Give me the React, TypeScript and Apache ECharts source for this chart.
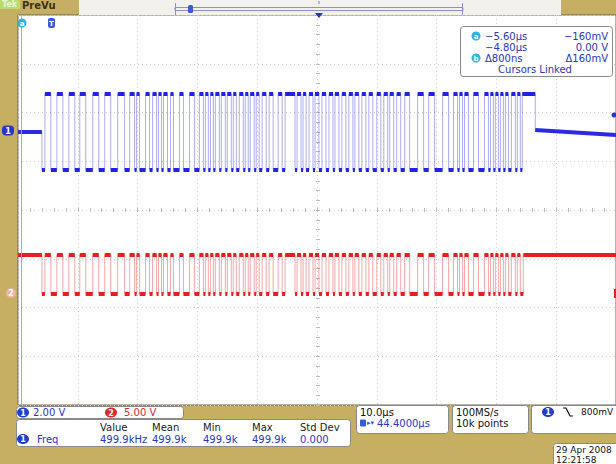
import React, { useEffect, useRef } from "react";
import * as echarts from "echarts";

// ---- Data (time in µs across the 10 divisions, level in divisions from centre) ----
const timeRangeUs = [0, 100];
const levelRangeDiv = [-4, 4];

// Edge times (µs) of the serial burst: rise, fall, rise, fall ...
const sharedEdgesUs = [
  4.5, 5.5, 6.5, 7.5, 8.5, 9.5, 10.33, 11.33, 12.5, 13.5, 14.5, 15.5, 16.67, 17.83,
  18.67, 19.5, 19.83, 20.33, 21.33, 22.0, 22.5, 23.17, 23.5, 24.0, 24.33, 25.0, 25.5, 26.0,
  27.0, 27.67, 28.67, 29.5, 30.33, 31.0, 31.33, 31.83, 32.17, 32.67, 33.0, 33.67, 34.0,
  34.67, 35.0, 35.67, 36.0, 36.5, 37.0, 37.67, 38.0, 38.5, 38.83, 39.5, 39.83, 40.33,
  40.83, 41.5, 42.0, 42.67, 43.5, 44.17, 44.67, 46.33, 46.67, 47.33, 47.67, 48.17, 48.67, 49.33,
  49.67, 50.33, 50.83, 51.5, 52.0, 52.67, 53.0, 53.67, 54.17, 54.83, 55.33, 56.0, 56.33,
  57.0, 57.5, 58.17, 58.67, 59.33, 60.0, 60.67, 61.17, 61.83, 62.17, 62.83, 63.33, 64.0,
  64.67, 65.5, 66.83, 67.83, 68.67, 69.67, 71.0, 72.0, 72.83, 73.5, 73.83, 74.33, 74.67,
  75.33, 76.17, 77.0, 78.0, 78.67, 79.0, 79.5, 79.83, 80.33, 80.67, 81.17, 81.5, 82.0,
  82.5, 83.17, 83.5, 84.0,
];

// Channel 1 (blue)
const ch1BurstStartUs = 4.0;
const ch1TailEdgesUs = [84.33];
const ch1ReturnUs = 86.5;
const ch1Levels = { high: 2.38, low: 0.82 };
const ch1IdleStart = [1.6, 1.6]; // level at t=0 and at burst start
const ch1IdleEnd = [1.64, 1.54]; // level after return and at t=100

// Channel 2 (red) – idles high
const ch2BurstStartUs = 4.0;
const ch2TailEdgesUs = [84.5];
const ch2Levels = { high: -0.92, low: -1.72 };

// Readouts
const cursorRows = [
  ["−5.60µs", "−160mV"],
  ["−4.80µs", "0.00 V"],
  ["Δ800ns", "Δ160mV"],
];
const measHeaders = ["Value", "Mean", "Min", "Max", "Std Dev"];
const measValues = ["499.9kHz", "499.9k", "499.9k", "499.9k", "0.000"];

type P = [number, number];

function buildTrace(
  startUs: number,
  idleA: number,
  edges: number[],
  low: number,
  high: number,
  returnUs: number | null,
  idleEnd: [number, number] | null
) {
  const path: P[] = [[timeRangeUs[0], idleA], [startUs, idleA], [startUs, low]];
  const plateaus: P[][] = [];
  let level = low;
  let last = startUs;
  for (const t of edges) {
    plateaus.push([[last, level], [t, level]]);
    path.push([t, level]);
    level = level === low ? high : low;
    path.push([t, level]);
    last = t;
  }
  if (returnUs !== null && idleEnd) {
    plateaus.push([[last, level], [returnUs, level]]);
    path.push([returnUs, level]);
    path.push([returnUs, idleEnd[0]]);
    path.push([timeRangeUs[1], idleEnd[1]]);
  } else {
    path.push([timeRangeUs[1], level]);
  }
  return { path, plateaus, last, level };
}

const FONT = "DejaVu Sans";

function txt(x: number, y: number, text: string, fill = "#000", extra: any = {}) {
  return {
    type: "text",
    x,
    y,
    silent: true,
    style: {
      text,
      fill,
      font: `${extra.weight || "normal"} ${extra.size || 10}px "${FONT}"`,
      textAlign: extra.align || "left",
      textVerticalAlign: "middle",
    },
    z: 20,
  };
}
function box(x: number, y: number, w: number, h: number, fill = "#fff", stroke = "#8a8a8a") {
  return {
    type: "rect",
    silent: true,
    shape: { x, y, width: w, height: h, r: 3 },
    style: { fill, stroke, lineWidth: 1 },
    z: 15,
  };
}
function badge(cx: number, cy: number, label: string, fill: string, color = "#fff") {
  return [
    {
      type: "ellipse",
      silent: true,
      shape: { cx, cy, rx: 6, ry: 5 },
      style: { fill },
      z: 18,
    },
    txt(cx, cy + 0.5, label, color, { align: "center", size: 8, weight: "bold" }),
  ];
}
function letterBadge(cx: number, cy: number, label: string) {
  return [
    { type: "circle", silent: true, shape: { cx, cy, r: 4.5 }, style: { fill: "#2fb3e6" }, z: 18 },
    txt(cx, cy + 0.5, label, "#fff", { align: "center", size: 7, weight: "bold" }),
  ];
}

export default function App() {
  const ref = useRef<HTMLDivElement>(null);
  useEffect(() => {
    document.body.style.margin = "0";
    const chart = echarts.init(ref.current!, null, { renderer: "svg" });

    const blue = buildTrace(
      ch1BurstStartUs,
      ch1IdleStart[0],
      [...sharedEdgesUs, ...ch1TailEdgesUs],
      ch1Levels.low,
      ch1Levels.high,
      ch1ReturnUs,
      [ch1IdleEnd[0], ch1IdleEnd[1]]
    );
    const red = buildTrace(
      ch2BurstStartUs,
      ch2Levels.high,
      [...sharedEdgesUs, ...ch2TailEdgesUs],
      ch2Levels.low,
      ch2Levels.high,
      null,
      null
    );
    const blueIdle: P[][] = [
      [[timeRangeUs[0], ch1IdleStart[0]], [ch1BurstStartUs, ch1IdleStart[1]]],
      [[ch1ReturnUs, ch1IdleEnd[0]], [timeRangeUs[1], ch1IdleEnd[1]]],
    ];
    const redIdle: P[][] = [
      [[timeRangeUs[0], ch2Levels.high], [ch2BurstStartUs, ch2Levels.high]],
      [[red.last, ch2Levels.high], [timeRangeUs[1], ch2Levels.high]],
    ];

    const gridSplit = { show: true, lineStyle: { color: "#cdcdcd", type: [1, 3], width: 1 } };
    const hidden = { show: false };
    const crossAxisX = (inside: boolean) => ({
      type: "value",
      min: timeRangeUs[0],
      max: timeRangeUs[1],
      interval: 10,
      position: "bottom",
      offset: -195,
      axisLine: hidden,
      axisLabel: hidden,
      splitLine: hidden,
      axisTick: { show: true, inside, length: 2, lineStyle: { color: "#bdbdbd" } },
      minorTick: { show: true, splitNumber: 5, length: 2, lineStyle: { color: "#bdbdbd" } },
    });
    const crossAxisY = (inside: boolean) => ({
      type: "value",
      min: levelRangeDiv[0],
      max: levelRangeDiv[1],
      interval: 1,
      position: "left",
      offset: -300,
      axisLine: hidden,
      axisLabel: hidden,
      splitLine: hidden,
      axisTick: { show: true, inside, length: 2, lineStyle: { color: "#bdbdbd" } },
      minorTick: { show: true, splitNumber: 5, length: 2, lineStyle: { color: "#bdbdbd" } },
    });

    const graphics: any[] = [
      // top record bar
      { type: "rect", silent: true, shape: { x: 79, y: 0, width: 482, height: 15 }, style: { fill: "#f2f1ec" }, z: 10 },
      { type: "rect", silent: true, shape: { x: 175, y: 7.5, width: 288, height: 3 }, style: { fill: "none", stroke: "#8e8ed8", lineWidth: 1 }, z: 11 },
      { type: "line", silent: true, shape: { x1: 175.5, y1: 3, x2: 175.5, y2: 15 }, style: { stroke: "#8e8ed8", lineWidth: 1 }, z: 11 },
      { type: "line", silent: true, shape: { x1: 462.5, y1: 3, x2: 462.5, y2: 15 }, style: { stroke: "#8e8ed8", lineWidth: 1 }, z: 11 },
      { type: "rect", silent: true, shape: { x: 188, y: 5, width: 5, height: 8, r: 1.5 }, style: { fill: "#3a5ad8" }, z: 12 },
      { type: "polygon", silent: true, shape: { points: [[315, 13], [323, 13], [319, 18]] }, style: { fill: "#2438c8" }, z: 30 },
      { type: "line", silent: true, shape: { x1: 319, y1: 1, x2: 319, y2: 4 }, style: { stroke: "#6c7ad0", lineWidth: 1 }, z: 12 },
      { type: "rect", silent: true, shape: { x: 0, y: 0, width: 20, height: 9 }, style: { fill: "#b9dc68" }, z: 11 },
      txt(2, 4.5, "Tek", "#eef7d0", { weight: "bold", size: 8 }),
      txt(22, 5, "PreVu", "#3a3214", { weight: "bold", size: 10 }),
      // cursor line + markers in the plot
      { type: "line", silent: true, shape: { x1: 21.5, y1: 16, x2: 21.5, y2: 405 }, style: { stroke: "#a3a3f2", lineWidth: 1 }, z: 9 },
      ...letterBadge(22, 23, "a"),
      { type: "rect", silent: true, shape: { x: 48, y: 18, width: 7, height: 10, r: 2 }, style: { fill: "#3a5ad8" }, z: 18 },
      txt(51.5, 23.5, "T", "#fff", { align: "center", size: 7, weight: "bold" }),
      // channel ground markers
      { type: "rect", silent: true, shape: { x: 2, y: 125.5, width: 12, height: 10, r: 4 }, style: { fill: "#2438c8" }, z: 18 },
      txt(8, 131, "1", "#fff", { align: "center", size: 8, weight: "bold" }),
      { type: "circle", silent: true, shape: { cx: 11, cy: 293, r: 5 }, style: { fill: "#f4b2a2" }, z: 18 },
      txt(11, 293.5, "2", "#fff", { align: "center", size: 8, weight: "bold" }),
      { type: "circle", silent: true, shape: { cx: 614, cy: 115, r: 2.5 }, style: { fill: "#2438c8" }, z: 18 },
      { type: "line", silent: true, shape: { x1: 615, y1: 289, x2: 615, y2: 298 }, style: { stroke: "#e82020", lineWidth: 2 }, z: 18 },
      // cursor readout box
      box(460.5, 26.5, 152, 50),
      ...letterBadge(476, 36, "a"),
      txt(485, 36, cursorRows[0][0], "#2b36b8"),
      txt(608, 36, cursorRows[0][1], "#2b36b8", { align: "right" }),
      txt(485, 47, cursorRows[1][0], "#2b36b8"),
      txt(608, 47, cursorRows[1][1], "#2b36b8", { align: "right" }),
      ...letterBadge(476, 58, "b"),
      txt(485, 58, cursorRows[2][0], "#2b36b8"),
      txt(608, 58, cursorRows[2][1], "#2b36b8", { align: "right" }),
      txt(535, 69, "Cursors Linked", "#2b36b8", { align: "center" }),
      // bottom: channel scale box
      box(16.5, 406.5, 167, 12),
      ...badge(23, 412.5, "1", "#1e3fd0"),
      txt(33, 412.5, "2.00 V", "#2b36c8"),
      ...badge(111, 412.5, "2", "#e02828"),
      txt(124, 412.5, "5.00 V", "#e02828"),
      // measurement box
      box(16.5, 419.5, 334, 27),
      ...badge(23, 439, "1", "#1e3fd0"),
      txt(37, 439, "Freq", "#2b36c8"),
      // timebase box
      box(356.5, 405.5, 92, 28),
      txt(360, 412, "10.0µs", "#111"),
      { type: "rect", silent: true, shape: { x: 360, y: 419.5, width: 6, height: 7, r: 1 }, style: { fill: "#3a5ad8" }, z: 18 },
      txt(367, 423, "▸▾", "#3a5ad8", { size: 7 }),
      txt(377, 423, "44.4000µs", "#2b36c8"),
      // sample box
      box(452.5, 405.5, 76, 28),
      txt(456, 412, "100MS/s", "#111"),
      txt(456, 423, "10k points", "#111"),
      // trigger box
      box(531.5, 405.5, 92, 28),
      ...badge(548, 412, "1", "#1e3fd0"),
      { type: "polyline", silent: true, shape: { points: [[563, 408], [566, 408], [570, 416], [573, 416]] }, style: { stroke: "#111", lineWidth: 1.2, fill: "none" }, z: 20 },
      txt(581, 412, "800mV", "#111", { size: 9 }),
      // date box
      box(553.5, 443.5, 70, 24),
      txt(556, 449.5, "29 Apr 2008", "#111", { size: 9 }),
      txt(556, 459.5, "12:21:58", "#111", { size: 9 }),
    ];
    const headerX = [100, 152, 203, 252, 300];
    measHeaders.forEach((h, i) => graphics.push(txt(headerX[i], 427.5, h, "#222")));
    measValues.forEach((v, i) => graphics.push(txt(headerX[i], 439, v, "#2b36c8")));

    chart.setOption({
      animation: false,
      backgroundColor: "#c6af63",
      grid: {
        left: 18,
        top: 15,
        width: 601,
        height: 390,
        show: true,
        backgroundColor: "#ffffff",
        borderColor: "#6e6650",
        borderWidth: 1,
      },
      xAxis: [
        {
          type: "value",
          min: timeRangeUs[0],
          max: timeRangeUs[1],
          interval: 10,
          axisLine: hidden,
          axisTick: hidden,
          axisLabel: hidden,
          splitLine: gridSplit,
        },
        crossAxisX(true),
        crossAxisX(false),
      ],
      yAxis: [
        {
          type: "value",
          min: levelRangeDiv[0],
          max: levelRangeDiv[1],
          interval: 1,
          axisLine: hidden,
          axisTick: hidden,
          axisLabel: hidden,
          splitLine: gridSplit,
        },
        crossAxisY(true),
        crossAxisY(false),
      ],
      series: [
        {
          type: "line",
          name: "ch2-edges",
          data: red.path,
          symbol: "none",
          lineStyle: { color: "rgba(240,80,80,0.5)", width: 1 },
          z: 3,
        },
        {
          type: "lines",
          name: "ch2-levels",
          coordinateSystem: "cartesian2d",
          data: [...red.plateaus, ...redIdle].map((c) => ({ coords: c })),
          lineStyle: { color: "#e81e1e", width: 4, opacity: 1 },
          z: 4,
        },
        {
          type: "line",
          name: "ch1-edges",
          data: blue.path,
          symbol: "none",
          lineStyle: { color: "rgba(90,90,238,0.5)", width: 1 },
          z: 5,
        },
        {
          type: "lines",
          name: "ch1-levels",
          coordinateSystem: "cartesian2d",
          data: blue.plateaus.map((c) => ({ coords: c })),
          lineStyle: { color: "#2222e4", width: 4, opacity: 1 },
          z: 6,
        },
        {
          type: "lines",
          name: "ch1-idle",
          coordinateSystem: "cartesian2d",
          data: blueIdle.map((c) => ({ coords: c })),
          lineStyle: { color: "#2a2ae6", width: 4, opacity: 1 },
          z: 6,
        },
      ],
      graphic: graphics,
    });
    return () => chart.dispose();
  }, []);
  return <div ref={ref} style={{ position: "absolute", left: 0, top: 0, width: 616, height: 464 }} />;
}
